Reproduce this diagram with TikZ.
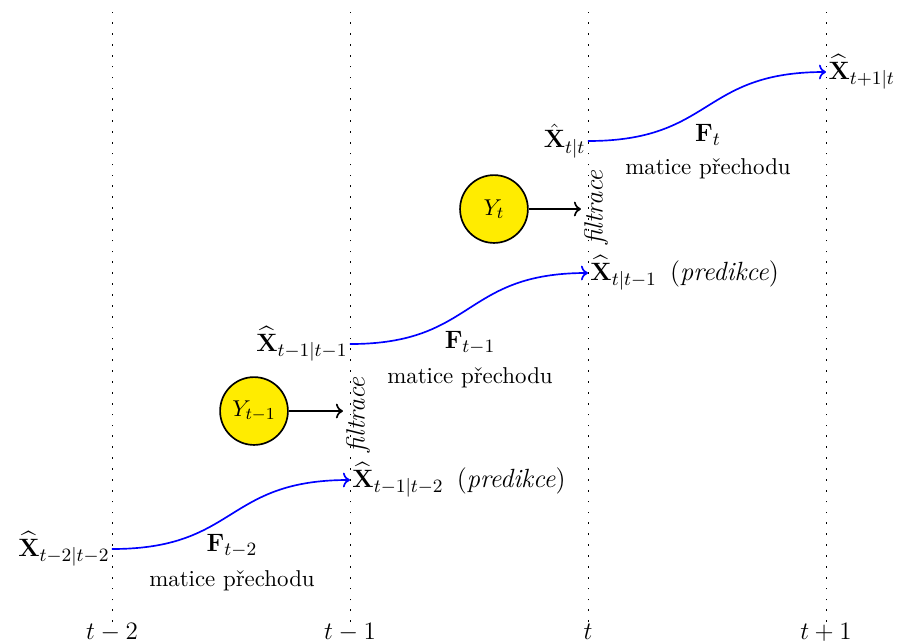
\documentclass[12pt,tikz,border=0pt]{standalone}
\usepackage{amsmath}
\usepackage{amssymb}
\usepackage{tikz}
\usetikzlibrary{positioning, arrows.meta, shapes, calc}
\usepackage{xcolor}
\definecolor{obsyellow}{RGB}{255,236,0}
\DeclareMathSizes{12.6}{12.6}{9.5}{7}

\begin{document}
\begin{tikzpicture}[node distance=0pt, font=\fontsize{12.6}{15}\selectfont,
  timeline/.style={dash pattern=on 0.8pt off 4.4pt},
  transition/.style={->, thick, blue, looseness=1.3},
  obsnode/.style={circle, draw, thick, fill=obsyellow, minimum size=1.14cm, inner sep=0pt, font=\small},
  statelabel/.style={inner sep=1pt}]
\useasboundingbox (-1.882,-0.336) rectangle (13.227,10.454);
% casova osa
\draw[timeline] (0,0) -- (0,10.25);
\draw[timeline] (4,0) -- (4,10.25);
\draw[timeline] (8,0) -- (8,10.25);
\draw[timeline] (12,0) -- (12,10.25);
\node (t0) at (0,-0.17) {$t-2$};
\node (t1) at (4,-0.17) {$t-1$};
\node (t2) at (8,-0.17) {$t$};
\node (t3) at (12,-0.17) {$t+1$};
% krok t-2 -> t-1
\coordinate (s1) at (0,1.227);
\coordinate (e1) at (4,2.387);
\node[statelabel, left=of s1] (x1) {$\widehat{\mathbf{X}}_{t-2|t-2}$};
\node[statelabel, right=of e1] (p1) {$\widehat{\mathbf{X}}_{t-1|t-2}$\enspace(\textit{predikce})};
\draw[transition] (s1) to[out=0, in=180] (e1);
\node (f1) at (2.017,1.277) {$\mathbf{F}_{t-2}$};
\node[below=-2pt of f1, font=\small] (m1) {matice přechodu};
\node[obsnode] (y1) at (2.387,3.546) {$Y_{t-1}$};
\coordinate (a1) at (3.882,3.546);
\draw[->, thick] (y1) -- (a1);
\node[rotate=90] (fl1) at (4.135,3.487) {\textit{filtrace}};
% krok t-1 -> t
\coordinate (s2) at (4,4.672);
\coordinate (e2) at (8,5.866);
\node[statelabel, left=of s2] (x2) {$\widehat{\mathbf{X}}_{t-1|t-1}$};
\node[statelabel, right=of e2] (p2) {$\widehat{\mathbf{X}}_{t|t-1}$\enspace(\textit{predikce})};
\draw[transition] (s2) to[out=0, in=180] (e2);
\node (f2) at (6.017,4.689) {$\mathbf{F}_{t-1}$};
\node[below=-2pt of f2, font=\small] (m2) {matice přechodu};
\node[obsnode] (y2) at (6.420,6.941) {$Y_t$};
\coordinate (a2) at (7.882,6.941);
\draw[->, thick] (y2) -- (a2);
\node[rotate=90] (fl2) at (8.135,6.967) {\textit{filtrace}};
% krok t -> t+1
\coordinate (s3) at (8,8.084);
\coordinate (e3) at (12,9.244);
\node[statelabel, left=of s3] (x3) {$\hat{\mathbf{X}}_{t|t}$};
\node[statelabel, right=of e3] (p3) {$\widehat{\mathbf{X}}_{t+1|t}$};
\draw[transition] (s3) to[out=0, in=180] (e3);
\node (f3) at (10.017,8.185) {$\mathbf{F}_{t}$};
\node[below=-2pt of f3, font=\small] (m3) {matice přechodu};
\end{tikzpicture}
\end{document}
